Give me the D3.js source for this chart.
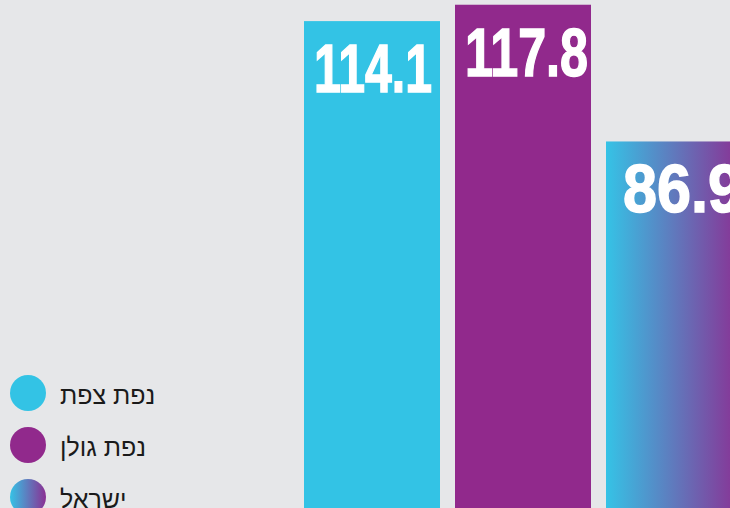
<!DOCTYPE html>
<html lang="he">
<head>
    <meta charset="UTF-8">
    <title>Bars - districts</title>
    <style>
        html, body { margin: 0; padding: 0; background: #e6e7e9; }
        svg { display: block; }
        .value-label
        {
            font-family: 'Liberation Sans', Arial, sans-serif;
            font-weight: bold;
            font-size: 68px;
            fill: #ffffff;
            stroke: #ffffff;
            stroke-width: 1.5px;
        }
        .legend-label
        {
            font-family: 'Liberation Sans', Arial, sans-serif;
            font-size: 25px;
            fill: #1a1a1a;
        }
    </style>
</head>
<body>

<svg width="730" height="508"></svg>

<script src="https://d3js.org/d3.v7.min.js"></script>
<script>

    // Data
    const categories = ['נפת צפת', 'נפת גולן', 'ישראל'];
    const values = [114.1, 117.8, 86.9];
    const valueLabels = ['114.1', '117.8', '86.9'];

    const cyan = '#33c3e5';
    const purple = '#91298c';
    const fills = [cyan, purple, 'url(#grad)'];

    const svg = d3.select('svg');
    const width = +svg.attr('width');
    const height = +svg.attr('height');

    svg.append('rect')
        .attr('width', width)
        .attr('height', height)
        .attr('fill', '#e6e7e9');

    // gradient for the third bar / legend dot
    const defs = svg.append('defs');
    const grad = defs.append('linearGradient')
        .attr('id', 'grad')
        .attr('x1', '0%').attr('x2', '100%')
        .attr('y1', '0%').attr('y2', '0%');
    grad.append('stop').attr('offset', '0%').attr('stop-color', '#35c3e6');
    grad.append('stop').attr('offset', '100%').attr('stop-color', '#8b2f93');

    // the chart is cropped: baseline sits below the visible area
    const xScale = d3.scaleBand()
        .domain(categories)
        .range([304, 742])
        .paddingInner(15 / 151)
        .paddingOuter(0);

    const yScale = d3.scaleLinear()
        .domain([0, 120])
        .range([526, -5]);

    const bars = svg.append('g');

    bars.selectAll('rect')
        .data(categories)
        .enter()
        .append('rect')
        .attr('x', d => xScale(d))
        .attr('y', (d, i) => yScale(values[i]))
        .attr('width', xScale.bandwidth())
        .attr('height', (d, i) => yScale(0) - yScale(values[i]))
        .attr('fill', (d, i) => fills[i]);

    // rough widths of the narrow display digits (the '1' is thin)
    const glyphWidth = function(ch) {
        if (ch === '1') return 21;
        if (ch === '7') return 26;
        if (ch === '.') return 14;
        return 33;
    };
    const labelWidth = function(s) {
        return d3.sum(s.split(''), glyphWidth) + 2 * (s.length - 1);
    };

    bars.selectAll('text')
        .data(categories)
        .enter()
        .append('text')
        .attr('class', 'value-label')
        .attr('x', (d, i) => xScale(d) + (i === 2 ? 17 : 10))
        .attr('y', (d, i) => yScale(values[i]) + 71)
        .attr('textLength', (d, i) => labelWidth(valueLabels[i]))
        .attr('lengthAdjust', 'spacingAndGlyphs')
        .text((d, i) => valueLabels[i]);

    // legend
    const legendY = d3.scalePoint()
        .domain(categories)
        .range([393, 497]);

    const legend = svg.append('g');

    legend.selectAll('circle')
        .data(categories)
        .enter()
        .append('circle')
        .attr('cx', 28)
        .attr('cy', d => legendY(d))
        .attr('r', 18)
        .attr('fill', (d, i) => fills[i]);

    legend.selectAll('text')
        .data(categories)
        .enter()
        .append('text')
        .attr('class', 'legend-label')
        .attr('x', 60)
        .attr('y', d => legendY(d) + 11)
        .text(d => d);

</script>
</body>
</html>
